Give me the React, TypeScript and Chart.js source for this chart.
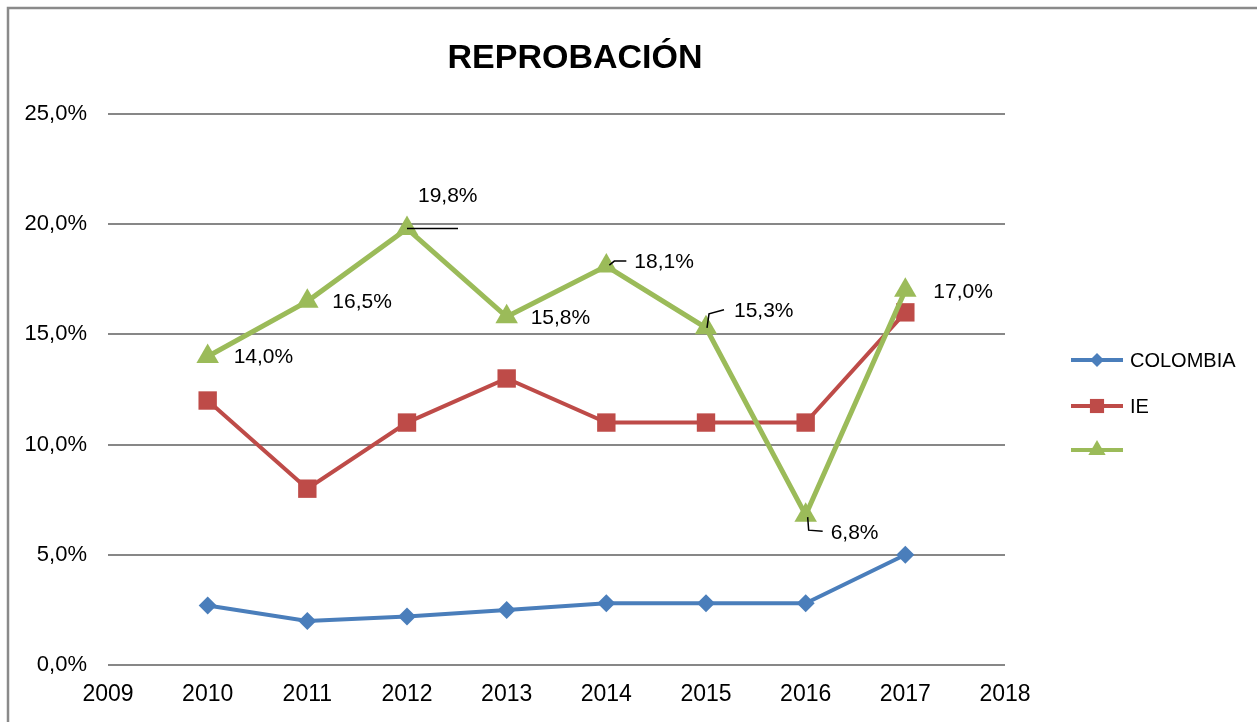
import React, { useEffect, useRef } from "react";
import { Chart, registerables } from "chart.js";

Chart.register(...registerables);

const years = [2010, 2011, 2012, 2013, 2014, 2015, 2016, 2017];
const colombia = [2.7, 2.0, 2.2, 2.5, 2.8, 2.8, 2.8, 5.0];
const ie = [12.0, 8.0, 11.0, 13.0, 11.0, 11.0, 11.0, 16.0];
const third = [14.0, 16.5, 19.8, 15.8, 18.1, 15.3, 6.8, 17.0];
const seriesNames = ["COLOMBIA", "IE", ""];
const titleText = "REPROBACIÓN";

const BLUE = "#4A7EBB";
const RED = "#BE4B48";
const GREEN = "#9BBB59";
const FONT = "'Liberation Sans', Arial, sans-serif";

const fmt = (v: number) => v.toFixed(1).replace(".", ",") + "%";

// label placement for the third series (dx, dy of text left/middle relative to point, leader type)
const labelPlace = [
  { dx: 26, dy: 1, leader: 0 },
  { dx: 25, dy: 1, leader: 0 },
  { dx: 11, dy: -32, leader: 1 },
  { dx: 24, dy: 1, leader: 0 },
  { dx: 28, dy: -4, leader: 2 },
  { dx: 28, dy: -17, leader: 3 },
  { dx: 25, dy: 18, leader: 4 },
  { dx: 28, dy: 2, leader: 0 },
];

function drawMarker(ctx: CanvasRenderingContext2D, style: string, r: number, x: number, y: number, color: string) {
  ctx.save();
  ctx.fillStyle = color;
  ctx.beginPath();
  if (style === "rectRot") {
    ctx.moveTo(x, y - r);
    ctx.lineTo(x + r, y);
    ctx.lineTo(x, y + r);
    ctx.lineTo(x - r, y);
    ctx.closePath();
  } else if (style === "rect") {
    const s = r * Math.SQRT1_2;
    ctx.rect(x - s, y - s, 2 * s, 2 * s);
  } else {
    ctx.moveTo(x, y - r);
    ctx.lineTo(x + r * 0.866, y + r * 0.5);
    ctx.lineTo(x - r * 0.866, y + r * 0.5);
    ctx.closePath();
  }
  ctx.fill();
  ctx.restore();
}

const decorPlugin = {
  id: "decor",
  beforeDraw(chart: any) {
    const ctx = chart.ctx;
    ctx.save();
    ctx.fillStyle = "#ffffff";
    ctx.fillRect(0, 0, chart.width, chart.height);
    ctx.strokeStyle = "#8a8a8a";
    ctx.lineWidth = 2.5;
    ctx.beginPath();
    ctx.moveTo(8, chart.height + 5);
    ctx.lineTo(8, 8);
    ctx.lineTo(chart.width + 5, 8);
    ctx.stroke();
    ctx.restore();
  },
  afterDraw(chart: any) {
    const ctx = chart.ctx;
    ctx.save();
    // title
    ctx.fillStyle = "#000";
    ctx.font = `bold 34px ${FONT}`;
    ctx.textAlign = "center";
    ctx.textBaseline = "middle";
    ctx.fillText(titleText, 575, 59);

    // data labels for third series
    const meta = chart.getDatasetMeta(2);
    ctx.font = `21px ${FONT}`;
    ctx.textAlign = "left";
    ctx.strokeStyle = "#000";
    ctx.lineWidth = 1.5;
    meta.data.forEach((pt: any, i: number) => {
      const p = labelPlace[i];
      const x = pt.x;
      const y = pt.y;
      ctx.beginPath();
      if (p.leader === 1) {
        ctx.moveTo(x, y);
        ctx.lineTo(x + 51, y);
      } else if (p.leader === 2) {
        ctx.moveTo(x + 3, y - 1);
        ctx.lineTo(x + 8, y - 5);
        ctx.lineTo(x + 20, y - 5);
      } else if (p.leader === 3) {
        ctx.moveTo(x + 1, y);
        ctx.lineTo(x + 3, y - 14);
        ctx.lineTo(x + 18, y - 18);
      } else if (p.leader === 4) {
        ctx.moveTo(x + 2, y + 2);
        ctx.lineTo(x + 3, y + 15);
        ctx.lineTo(x + 17, y + 16);
      }
      ctx.stroke();
      ctx.fillText(fmt(third[i]), x + p.dx, y + p.dy);
    });

    // legend
    const items = [
      { color: BLUE, style: "rectRot", r: 7 },
      { color: RED, style: "rect", r: 10 },
      { color: GREEN, style: "triangle", r: 10 },
    ];
    const lx0 = 1071;
    const lx1 = 1123;
    const ly = [360, 406, 450];
    items.forEach((it, i) => {
      ctx.strokeStyle = it.color;
      ctx.lineWidth = 4;
      ctx.beginPath();
      ctx.moveTo(lx0, ly[i]);
      ctx.lineTo(lx1, ly[i]);
      ctx.stroke();
      drawMarker(ctx, it.style, it.r, (lx0 + lx1) / 2, ly[i], it.color);
      ctx.fillStyle = "#000";
      ctx.font = `20px ${FONT}`;
      ctx.textAlign = "left";
      ctx.textBaseline = "middle";
      ctx.fillText(seriesNames[i], 1130, ly[i] + 1);
    });
    ctx.restore();
  },
};

export default function App() {
  const ref = useRef<HTMLCanvasElement>(null);
  useEffect(() => {
    if (!ref.current) return;
    const mk = (vals: number[]) => vals.map((v, i) => ({ x: years[i], y: v }));
    const chart = new Chart(ref.current, {
      type: "line",
      data: {
        datasets: [
          {
            label: seriesNames[0],
            data: mk(colombia),
            borderColor: BLUE,
            backgroundColor: BLUE,
            borderWidth: 4,
            pointStyle: "rectRot",
            pointRadius: 9,
            pointBorderWidth: 0,
            order: 2,
            tension: 0,
          },
          {
            label: seriesNames[1],
            data: mk(ie),
            borderColor: RED,
            backgroundColor: RED,
            borderWidth: 4,
            pointStyle: "rect",
            pointRadius: 13,
            pointBorderWidth: 0,
            order: 1,
            tension: 0,
          },
          {
            label: seriesNames[2],
            data: mk(third),
            borderColor: GREEN,
            backgroundColor: GREEN,
            borderWidth: 5,
            pointStyle: "triangle",
            pointRadius: 13,
            pointBorderWidth: 0,
            order: 0,
            tension: 0,
          },
        ],
      },
      options: {
        animation: false,
        responsive: false,
        maintainAspectRatio: false,
        events: [],
        layout: { padding: { top: 114, right: 252, left: 0, bottom: 0 } },
        plugins: {
          legend: { display: false },
          title: { display: false },
          tooltip: { enabled: false },
        },
        scales: {
          x: {
            type: "linear",
            min: 2009,
            max: 2018,
            afterFit: (s: any) => {
              s.height = 57;
            },
            ticks: {
              stepSize: 1,
              color: "#000",
              padding: 16,
              font: { family: FONT, size: 23 },
              callback: (v: any) => String(v),
            },
            grid: { display: false, drawTicks: false },
            border: { display: false },
          },
          y: {
            min: 0,
            max: 25,
            afterFit: (s: any) => {
              s.width = 108;
            },
            ticks: {
              stepSize: 5,
              color: "#000",
              padding: 21,
              font: { family: FONT, size: 22 },
              callback: (v: any) => fmt(Number(v)),
            },
            grid: { color: "#878787", lineWidth: 2, drawTicks: false },
            border: { display: false },
          },
        },
      },
      plugins: [decorPlugin],
    });
    return () => chart.destroy();
  }, []);
  return (
    <div style={{ position: "fixed", left: 0, top: 0, width: 1257, height: 722, background: "#fff" }}>
      <canvas ref={ref} width={1257} height={722} style={{ display: "block" }} />
    </div>
  );
}
